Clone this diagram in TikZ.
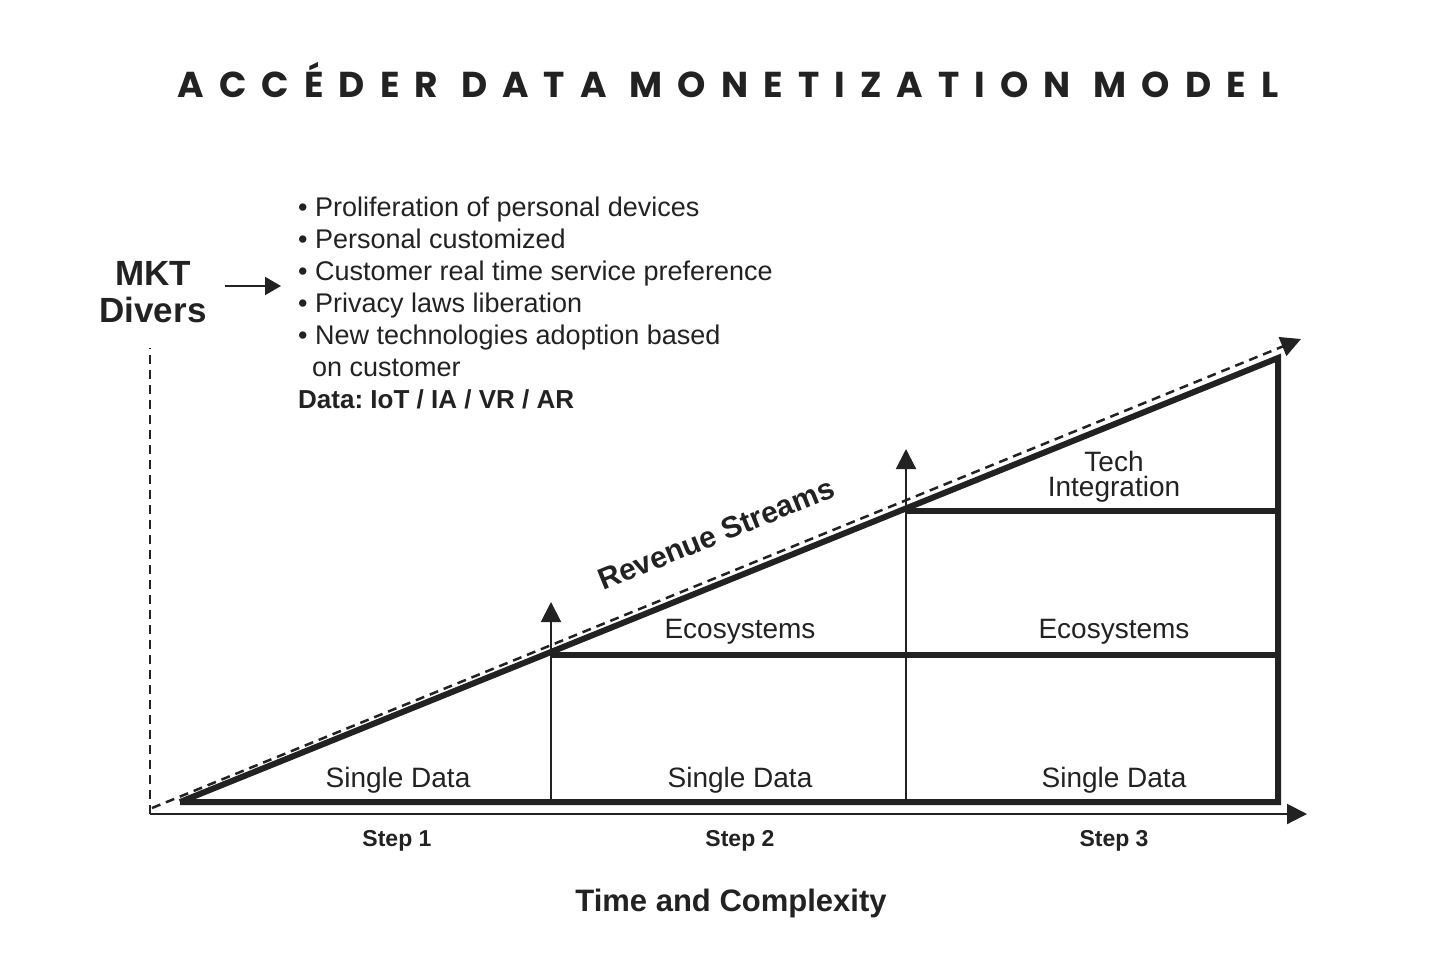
\documentclass[tikz,border=0pt]{standalone}
\usepackage{fontspec}
\setmainfont{Liberation Sans}
\newfontfamily\titlefont[LetterSpace=42]{Poppins}
\usetikzlibrary{arrows.meta}
\definecolor{ink}{HTML}{222222}
\begin{document}
\frenchspacing
\begin{tikzpicture}[x=1pt,y=-1pt,
  thickln/.style={line width=6pt, draw=ink, line join=miter},
  thinln/.style={line width=2pt, draw=ink},
  dashln/.style={line width=2.5pt, draw=ink, dash pattern=on 9pt off 6pt},
  tipped/.style={-{Triangle[length=20pt,width=20pt]}},
  body/.style={font=\fontsize{28}{32}\selectfont, text=ink, inner sep=0pt},
  boldlbl/.style={font=\bfseries\fontsize{#1}{#1}\selectfont, text=ink, inner sep=0pt},
]
\useasboundingbox (0,0) rectangle (1437,979);
\fill[white] (0,0) rectangle (1437,979);

% title
\node[font=\titlefont\bfseries\fontsize{36}{36}\selectfont, text=ink, inner sep=0pt] (title) at (728,80) {ACCÉDER DATA MONETIZATION MODEL};

% coordinates
\coordinate (V0) at (150,814);
\coordinate (V1) at (150,348);
\coordinate (X1) at (1307,814);
\coordinate (D0) at (152,808);
\coordinate (D1) at (1301,339);
\coordinate (A) at (180,802);
\coordinate (B) at (1278,802);
\coordinate (C) at (1278,358);
\coordinate (S1) at (551,802);
\coordinate (S1t) at (551,602);
\coordinate (S2) at (906,802);
\coordinate (S2t) at (906,449);
\coordinate (E1) at (551,655);
\coordinate (E1r) at (1278,655);
\coordinate (T1) at (906,511);
\coordinate (T1r) at (1278,511);

% axes
\draw[dashln] (V0) -- (V1);
\draw[thinln, tipped] (V0) -- (X1);
\draw[dashln, tipped] (D0) -- (D1);

% steps
\draw[thinln, tipped] (S1) -- (S1t);
\draw[thinln, tipped] (S2) -- (S2t);

% triangle
\draw[thickln] (A) -- (B) -- (C) -- (A);
\draw[thickln] (E1) -- (E1r);
\draw[thickln] (T1) -- (T1r);

% labels
\node[body] (sd1) at (398,780) {Single Data};
\node[body] (sd2) at (740,780) {Single Data};
\node[body] (sd3) at (1114,780) {Single Data};
\node[body] (ec2) at (740,632) {Ecosystems};
\node[body] (ec3) at (1114,632) {Ecosystems};
\node[body, align=center, font=\fontsize{28}{25}\selectfont] (tech) at (1114,477) {Tech\\Integration};

\node[boldlbl=30, rotate=22] (rev) at (716,534) {Revenue Streams};

\node[boldlbl=23] (st1) at (397,841) {Step 1};
\node[boldlbl=23] (st2) at (740,841) {Step 2};
\node[boldlbl=23] (st3) at (1114,841) {Step 3};

\node[boldlbl=31] (time) at (731,903) {Time and Complexity};

\node[font=\bfseries\fontsize{35}{37}\selectfont, text=ink, inner sep=0pt, align=center] (mkt) at (153,292) {MKT\\Divers};
\coordinate (M0) at (225,286);
\coordinate (M1) at (281,286);
\draw[thinln, -{Triangle[length=16pt,width=18pt]}] (M0) -- (M1);

\node[body, font=\fontsize{27}{32}\selectfont, anchor=north west, align=left] (drivers) at (298,197) {%
• Proliferation of personal devices\\
• Personal customized\\
• Customer real time service preference\\
• Privacy laws liberation\\
• New technologies adoption based\\
\hspace*{14pt}on customer\\
{\fontsize{26}{32}\selectfont\bfseries Data: IoT / IA / VR / AR}};

\end{tikzpicture}
\end{document}
